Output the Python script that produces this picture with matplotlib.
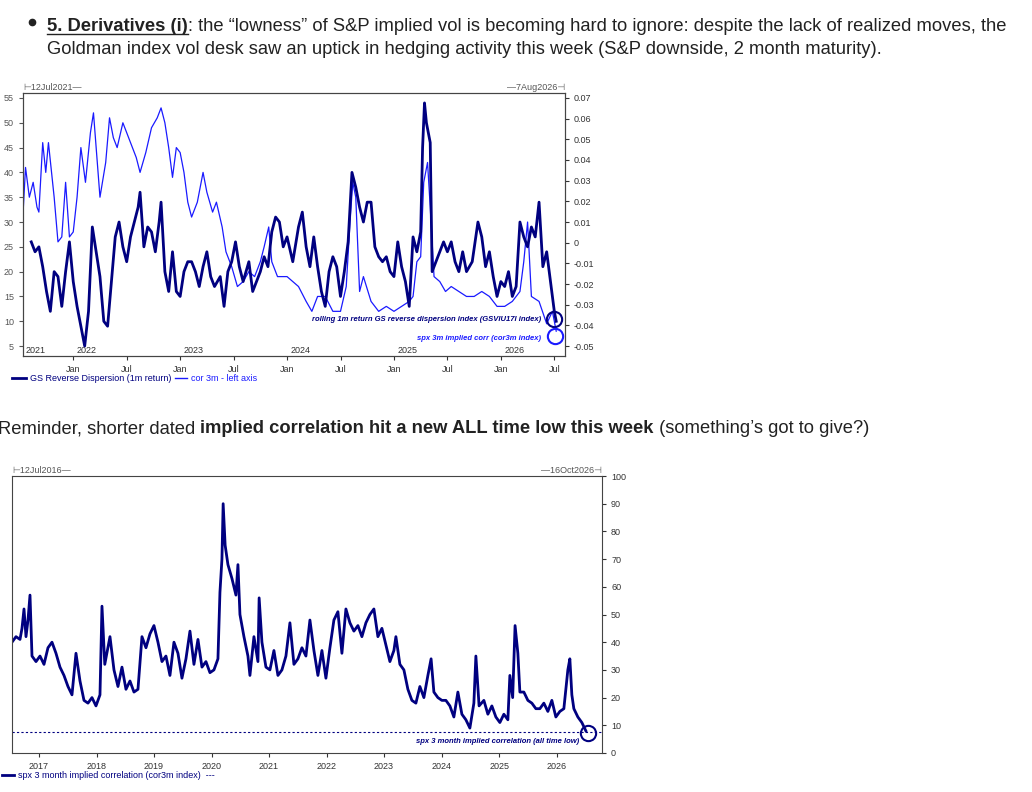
import numpy as np
import matplotlib
matplotlib.use("Agg")
import matplotlib.pyplot as plt
from matplotlib.lines import Line2D

plt.rcParams['font.family'] = ['Liberation Sans', 'DejaVu Sans']

# ---- chart 1 data (x = fractional year) ----
cor_x_px = [68, 75, 85, 95, 105, 110, 120, 128, 135, 150, 160, 170, 180, 190, 200, 210, 220, 232, 245, 253,
            260, 270, 285, 295, 305, 315, 330, 340, 355, 365, 375, 390, 405, 420, 430, 440, 450, 460, 470, 480,
            490, 500, 510, 525, 540, 550, 565, 575, 590, 600, 615, 630, 645, 660, 675, 690, 700, 712, 720, 735,
            760, 790, 810, 825, 840, 860, 880, 900, 915, 925, 932, 940, 950, 960, 980, 1000, 1020, 1040, 1060, 1080,
            1090, 1100, 1110, 1118, 1128, 1135, 1145, 1160, 1175, 1190, 1210, 1230, 1250, 1270, 1290, 1310, 1330,
            1350, 1370, 1380, 1390, 1400, 1420, 1440, 1455, 1465]
cor_vals = [31, 41, 35, 38, 33, 32, 46, 40, 46, 35, 26, 27, 38, 27, 28, 35, 45, 38, 48, 52,
            45, 35, 42, 51, 47, 45, 50, 48, 45, 43, 40, 44, 49, 51, 53, 50, 45, 39, 45, 44,
            40, 34, 31, 34, 40, 36, 32, 34, 29, 24, 21, 17, 18, 20, 19, 22, 25, 29, 22, 19,
            19, 17, 14, 12, 15, 15, 12, 12, 17, 30, 38, 35, 16, 19, 14, 12, 13, 12, 13, 14,
            15, 22, 23, 38, 42, 33, 19, 18, 16, 17, 16, 15, 15, 16, 15, 13, 13,
            14, 16, 22, 30, 15, 14, 9.5, 12, 8]

disp_x_px = [90, 100, 110, 120, 130, 140, 150, 160, 170, 180, 190, 200, 210, 220, 230, 240, 250, 260, 270, 280,
             290, 300, 310, 320, 330, 340, 350, 360, 370, 375, 385, 395, 405, 415, 425, 430, 440, 450, 460, 470,
             480, 490, 500, 510, 520, 530, 540, 550, 560, 570, 585, 595, 605, 615, 625, 635, 645, 660, 670, 680,
             690, 700, 710, 720, 730, 740, 750, 760, 775, 790, 800, 810, 820, 830, 840, 850, 860, 870, 880, 890,
             900, 910, 920, 930, 940, 950, 960, 970, 980, 990, 1000, 1010, 1020, 1030, 1040, 1050, 1060, 1070, 1080,
             1090, 1100, 1110, 1115, 1120, 1125, 1130, 1135, 1140, 1150, 1160, 1170, 1180, 1190, 1200, 1210, 1220,
             1230, 1245, 1260, 1270, 1280, 1290, 1300, 1310, 1320, 1330, 1340, 1350, 1360, 1370, 1380, 1390, 1400,
             1410, 1420, 1430, 1440, 1450, 1460, 1465]
disp_left = [26, 24, 25, 21, 16, 12, 20, 19, 13, 20, 26, 18, 13, 9, 5, 12, 29, 24, 19, 10,
             9, 18, 27, 30, 25, 22, 27, 30, 33, 36, 25, 29, 28, 24, 30, 34, 20, 16, 24, 16,
             15, 20, 22, 22, 20, 17, 21, 24, 19, 17, 19, 13, 20, 22, 26, 21, 18, 22, 16, 18,
             20, 23, 21, 28, 31, 30, 25, 27, 22, 29, 32, 25, 21, 27, 21, 16, 13, 20, 23, 21,
             15, 20, 26, 40, 37, 33, 30, 34, 34, 25, 23, 22, 23, 20, 19, 26, 21, 18, 13,
             27, 24, 28, 45, 54, 50, 48, 46, 20, 22, 24, 26, 24, 26, 22, 20, 24,
             20, 22, 30, 27, 21, 24, 19, 15, 18, 17, 20, 15, 17, 30, 27, 25, 29,
             27, 34, 21, 24, 18, 12, 10]

# ---- chart 2 data ----
c2_x_px = [30, 40, 50, 55, 60, 65, 70, 75, 80, 90, 100, 110, 120, 130, 140, 150, 160, 170, 180, 190,
           200, 210, 220, 230, 240, 250, 255, 262, 275, 285, 295, 305, 315, 325, 335, 345, 355, 365, 375, 385,
           395, 405, 415, 425, 435, 445, 455, 465, 475, 485, 495, 505, 515, 525, 535, 545, 550, 555, 558, 563,
           570, 580, 590, 595, 600, 610, 620, 625, 635, 645, 648, 655, 665, 675, 685, 695, 705, 715, 725, 735,
           745, 755, 765, 775, 785, 795, 805, 815, 825, 835, 845, 855, 865, 875, 885, 895, 905, 915, 925, 935,
           945, 955, 965, 975, 985, 990, 1000, 1010, 1020, 1030, 1040, 1050, 1060, 1070, 1078, 1085, 1095, 1105,
           1115, 1125, 1135, 1145, 1155, 1165, 1175, 1185, 1190, 1198, 1210, 1220, 1230, 1240, 1250, 1260, 1270,
           1275, 1282, 1288, 1295, 1300, 1310, 1320, 1330, 1340, 1350, 1360, 1370, 1380, 1390, 1400, 1410, 1420,
           1425, 1430, 1435, 1445, 1455, 1465]
c2_vals = [40, 42, 41, 45, 52, 42, 48, 57, 35, 33, 35, 32, 38, 40, 36, 31, 28, 24, 21, 36,
           26, 19, 18, 20, 17, 21, 53, 32, 42, 30, 24, 31, 23, 26, 22, 23, 42, 38, 43, 46,
           40, 33, 35, 28, 40, 36, 27, 34, 44, 32, 41, 31, 33, 29, 30, 34, 58, 70, 90, 75,
           68, 63, 57, 68, 50, 42, 35, 28, 42, 33, 56, 40, 31, 30, 37, 28, 30, 35, 47, 32,
           34, 38, 35, 48, 37, 28, 37, 27, 38, 48, 51, 36, 52, 47, 44, 46, 42, 47, 50, 52,
           42, 45, 39, 33, 37, 42, 32, 30, 23, 19, 18, 24, 20, 28, 34, 22, 20, 19,
           19, 17, 13, 22, 14, 12, 9, 18, 35, 17, 19, 14, 17, 13, 11, 14, 12,
           28, 20, 46, 36, 22, 22, 19, 18, 16, 16, 18, 15, 19, 13, 15, 16, 30,
           34, 21, 16, 13, 11, 8]
all_time_low = 7.5

W, H = 1032, 792
NAVY = '#000080'
BLUE = '#1a1aff'
TS = 6.5

cor_x = 2022 + (np.array(cor_x_px) - 200) / 280
disp_x = 2022 + (np.array(disp_x_px) - 200) / 280
disp_right = -0.05 + (np.array(disp_left) - 5) * 0.12 / 50
c2_x = 2016.53 + (np.array(c2_x_px) - 30) / 143.8

fig = plt.figure(figsize=(W / 100, H / 100), dpi=100)


def box(l, t, r, b):
    return [l / W, 1 - b / H, (r - l) / W, (b - t) / H]


def runs(x, y, parts, size=13.2):
    r = fig.canvas.get_renderer()
    for txt, weight, underline in parts:
        t = fig.text(x / W, 1 - y / H, txt, fontsize=size, fontweight=weight, color='#222222', va='baseline')
        bb = t.get_window_extent(r)
        if underline:
            fig.add_artist(Line2D([bb.x0 / W, bb.x1 / W], [1 - (y + 3) / H] * 2, color='#222222', lw=1))
        x = bb.x1


# ---- header text ----
fig.add_artist(Line2D([32 / W], [1 - 22 / H], marker='o', ms=4.5, color='#222222'))
runs(47, 31, [("5. Derivatives (i)", 'bold', True),
              (": the \u201clowness\u201d of S&P implied vol is becoming hard to ignore: despite the lack of realized moves, the", 'normal', False)])
runs(47, 54, [("Goldman index vol desk saw an uptick in hedging activity this week (S&P downside, 2 month maturity).", 'normal', False)])
runs(-2, 433, [("Reminder, shorter dated ", 'normal', False),
               ("implied correlation hit a new ALL time low this week", 'bold', False),
               (" (something\u2019s got to give?)", 'normal', False)])

# ---- chart 1 ----
ax1 = fig.add_axes(box(23, 93, 565, 356))
ax1.plot(cor_x, cor_vals, color=BLUE, lw=0.9)
ax1.set_xlim(2021.53, 2026.6)
ax1.set_ylim(3, 56)
ax1.set_yticks(range(5, 56, 5))
ax1.tick_params(axis='y', labelsize=TS, length=3, colors='#555555')
ax1.tick_params(axis='x', labelsize=TS, length=3, colors='#333333')
ticks = [2022, 2022.5, 2023, 2023.5, 2024, 2024.5, 2025, 2025.5, 2026, 2026.5]
ax1.set_xticks(ticks)
ax1.set_xticklabels(['Jan' if t == int(t) else 'Jul' for t in ticks])
ax2 = ax1.twinx()
ax2.plot(disp_x, disp_right, color=NAVY, lw=2.0)
ax2.set_ylim(-0.05 + (3 - 5) * 0.12 / 50, -0.05 + (56 - 5) * 0.12 / 50)
ax2.set_yticks(np.round(np.arange(-0.05, 0.071, 0.01), 2))
ax2.set_yticklabels([f"{v:g}" for v in np.round(np.arange(-0.05, 0.071, 0.01), 2)])
ax2.tick_params(axis='y', labelsize=TS, length=3, colors='#333333')
for yr, xp in [(2021, 2021.55), (2022, 2022.03), (2023, 2023.03), (2024, 2024.03), (2025, 2025.03), (2026, 2026.03)]:
    ax1.text(xp, 3.3, str(yr), fontsize=TS, color='#333333', va='bottom')
ax1.text(0.0, 1.01, '\u22a212Jul2021\u2014', transform=ax1.transAxes, fontsize=TS, color='#555555')
ax1.text(1.0, 1.01, '\u20147Aug2026\u22a3', transform=ax1.transAxes, fontsize=TS, color='#555555', ha='right')
ax1.text(2026.38, 10.3, 'rolling 1m return GS reverse dispersion index (GSVIU17I index)', fontsize=5.5,
         style='italic', fontweight='bold', color=NAVY, ha='right', va='center')
ax1.text(2026.38, 6.6, 'spx 3m implied corr (cor3m index)', fontsize=5.5,
         style='italic', fontweight='bold', color=BLUE, ha='right', va='center')
ax1.plot([2026.5], [10.5], 'o', ms=11, mfc='none', mec=NAVY, mew=1.5)
ax1.plot([2026.51], [7.0], 'o', ms=11, mfc='none', mec=BLUE, mew=1.5)
fig.add_artist(Line2D([12 / W, 26 / W], [1 - 378 / H] * 2, color=NAVY, lw=2))
fig.text(30 / W, 1 - 381 / H, 'GS Reverse Dispersion (1m return)', fontsize=TS, color=NAVY)
fig.add_artist(Line2D([175 / W, 187 / W], [1 - 378 / H] * 2, color=BLUE, lw=1))
fig.text(191 / W, 1 - 381 / H, 'cor 3m - left axis', fontsize=TS, color=BLUE)

# ---- chart 2 ----
ax3 = fig.add_axes(box(12, 476, 602, 753))
ax3.plot(c2_x, c2_vals, color=NAVY, lw=2.0)
ax3.axhline(all_time_low, color=NAVY, ls=(0, (2, 2)), lw=0.8)
ax3.set_xlim(2016.53, 2026.79)
ax3.set_ylim(0, 100)
ax3.yaxis.tick_right()
ax3.set_yticks(range(0, 101, 10))
ax3.tick_params(axis='y', labelsize=TS, length=3, colors='#333333')
ax3.set_xticks(range(2017, 2027))
ax3.tick_params(axis='x', labelsize=TS, length=3, colors='#333333')
ax3.text(0.0, 1.01, '\u22a212Jul2016\u2014', transform=ax3.transAxes, fontsize=TS, color='#555555')
ax3.text(1.0, 1.01, '\u201416Oct2026\u22a3', transform=ax3.transAxes, fontsize=TS, color='#555555', ha='right')
ax3.text(2026.4, 4.0, 'spx 3 month implied correlation (all time low)', fontsize=5.5,
         style='italic', fontweight='bold', color=NAVY, ha='right', va='center')
ax3.plot([2026.55], [7.2], 'o', ms=11, mfc='none', mec=NAVY, mew=1.5)
fig.add_artist(Line2D([2 / W, 14 / W], [1 - 775 / H] * 2, color=NAVY, lw=2))
fig.text(18 / W, 1 - 778 / H, 'spx 3 month implied correlation (cor3m index)  ---', fontsize=TS, color=NAVY)

for ax in (ax1, ax2, ax3):
    for s in ax.spines.values():
        s.set_color('#444444')
        s.set_linewidth(0.8)

fig.savefig('out.png', dpi=100)
